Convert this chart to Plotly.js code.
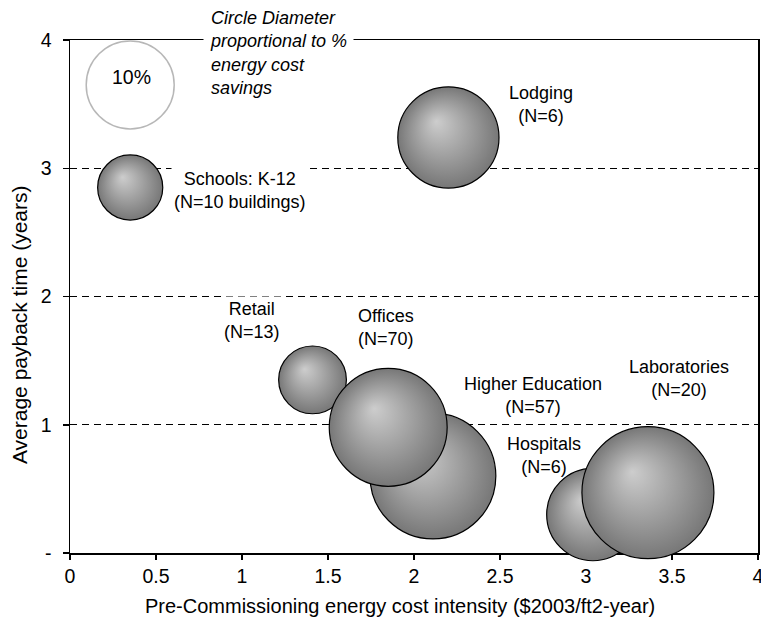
<!DOCTYPE html>
<html>
<head>
<meta charset="utf-8">
<script src="https://cdn.plot.ly/plotly-3.0.1.min.js"></script>
<style>
  html, body { margin: 0; padding: 0; background: #fff; }
  #chart { width: 761px; height: 618px; }
</style>
</head>
<body>
<div id="chart"></div>
<script>
// ---- Data ----
var categories   = ['Schools: K-12', 'Lodging', 'Retail', 'Higher Education', 'Offices', 'Hospitals', 'Laboratories'];
var sampleSizes  = ['(N=10 buildings)', '(N=6)', '(N=13)', '(N=57)', '(N=70)', '(N=6)', '(N=20)'];
var costIntensity = [0.35, 2.20, 1.41, 2.11, 1.85, 3.04, 3.36];   // $2003/ft2-year
var paybackYears  = [2.85, 3.24, 1.35, 0.60, 0.98, 0.30, 0.47];   // years
var savingsPct    = [7.4, 11.5, 7.7, 14.3, 13.4, 10.5, 15.0];     // % energy cost savings (circle diameter)
var legendPct     = [10];
var xTickVals = [0, 0.5, 1, 1.5, 2, 2.5, 3, 3.5, 4];
var xTickText = ['0', '0.5', '1', '1.5', '2', '2.5', '3', '3.5', '4'];
var yTickVals = [0, 1, 2, 3, 4];
var yTickText = ['-', '1', '2', '3', '4'];
var xTitle = 'Pre-Commissioning energy cost intensity ($2003/ft2-year)';
var yTitle = 'Average payback time (years)';

// ---- Styling / placement (not data) ----
var FONT = 'Liberation Sans, Arial, Helvetica, sans-serif';
var SIZEREF = 10 / 88; // 10% -> 88 px diameter
var legendPos = {x: 0.35, y: 3.65};
var labelPos = {
  'Schools: K-12':    {x: 0.99, y: 2.83, bg: true},
  'Lodging':          {x: 2.74, y: 3.50},
  'Retail':           {x: 1.06, y: 1.81, bg: true},
  'Higher Education': {x: 2.69, y: 1.225},
  'Offices':          {x: 1.84, y: 1.76},
  'Hospitals':        {x: 2.755, y: 0.76},
  'Laboratories':     {x: 3.54, y: 1.36}
};

var bubbles = {
  type: 'scatter', mode: 'markers',
  x: costIntensity, y: paybackYears,
  text: categories,
  cliponaxis: false,
  hoverinfo: 'text',
  marker: {
    size: savingsPct, sizemode: 'diameter', sizeref: SIZEREF,
    color: '#777777', opacity: 1,
    gradient: {type: 'radial', color: '#cdcdcd'},
    line: {color: '#000', width: 1.2}
  }
};

var legendCircle = {
  type: 'scatter', mode: 'markers',
  x: [legendPos.x], y: [legendPos.y],
  cliponaxis: false, hoverinfo: 'skip',
  marker: {
    size: legendPct, sizemode: 'diameter', sizeref: SIZEREF,
    color: 'rgba(255,255,255,0)',
    line: {color: '#9a9a9a', width: 1.5}
  }
};

var annotations = categories.map(function (c, i) {
  var p = labelPos[c];
  return {
    xref: 'x', yref: 'y', x: p.x, y: p.y,
    text: c + '<br>' + sampleSizes[i],
    showarrow: false, xanchor: 'center', yanchor: 'middle', align: 'center',
    font: {family: FONT, size: 18, color: '#000'},
    bgcolor: p.bg ? '#fff' : 'rgba(0,0,0,0)', borderpad: 2
  };
});
annotations.push({
  xref: 'x', yref: 'y', x: 0.36, y: 3.715,
  text: legendPct[0] + '%', showarrow: false,
  xanchor: 'center', yanchor: 'middle',
  font: {family: FONT, size: 19.5, color: '#000'}
});
annotations.push({
  xref: 'paper', yref: 'paper', x: 0.193, y: 1.0756,
  text: '<i>Circle Diameter<br>proportional to %<br>energy cost<br>savings</i>',
  showarrow: false, xanchor: 'left', yanchor: 'top', align: 'left',
  font: {family: FONT, size: 18, color: '#000'},
  bgcolor: '#fff', borderpad: 6
});
// axis titles (placed as in the reference, which sits off-centre)
annotations.push({
  xref: 'paper', yref: 'paper', x: 0.4797, y: -0.1033,
  text: xTitle, showarrow: false, xanchor: 'center', yanchor: 'middle',
  font: {family: FONT, size: 20, color: '#000'}
});
annotations.push({
  xref: 'paper', yref: 'paper', x: -0.0741, y: 0.4444,
  text: yTitle, showarrow: false, xanchor: 'center', yanchor: 'middle',
  textangle: -90,
  font: {family: FONT, size: 21, color: '#000'}
});

var layout = {
  width: 761, height: 618,
  margin: {l: 70, r: 3, t: 40, b: 65},
  paper_bgcolor: '#fff', plot_bgcolor: '#fff',
  showlegend: false, hovermode: 'closest',
  font: {family: FONT, color: '#000'},
  xaxis: {
    range: [0, 4], tickvals: xTickVals, ticktext: xTickText,
    ticks: 'outside', ticklen: 5, tickwidth: 1.5, tickcolor: '#000',
    showline: true, linecolor: '#000', linewidth: 1.5, mirror: true,
    showgrid: false, zeroline: false, layer: 'below traces',
    ticklabeloverflow: 'allow',
    tickfont: {family: FONT, size: 19.5, color: '#000'},
    automargin: false
  },
  yaxis: {
    range: [0, 4], tickvals: yTickVals, ticktext: yTickText,
    ticks: 'outside', ticklen: 6, tickwidth: 1.5, tickcolor: '#000',
    showline: true, linecolor: '#000', linewidth: 1.5, mirror: true,
    showgrid: true, gridcolor: '#000', gridwidth: 1, griddash: '7px,5px',
    zeroline: false, layer: 'below traces',
    ticklabelstandoff: 7,
    tickfont: {family: FONT, size: 19.5, color: '#000'},
    automargin: false
  },
  annotations: annotations
};

var gd = document.getElementById('chart');
Plotly.newPlot(gd, [legendCircle, bubbles], layout, {displayModeBar: false, staticPlot: true}).then(function () {
  // shift radial gradient highlight towards upper-left
  var grads = gd.querySelectorAll('radialGradient');
  for (var i = 0; i < grads.length; i++) {
    grads[i].setAttribute('cx', '0.5');
    grads[i].setAttribute('cy', '0.5');
    grads[i].setAttribute('r', '0.5');
    grads[i].setAttribute('fx', '0.38');
    grads[i].setAttribute('fy', '0.34');
  }
});
</script>
</body>
</html>
